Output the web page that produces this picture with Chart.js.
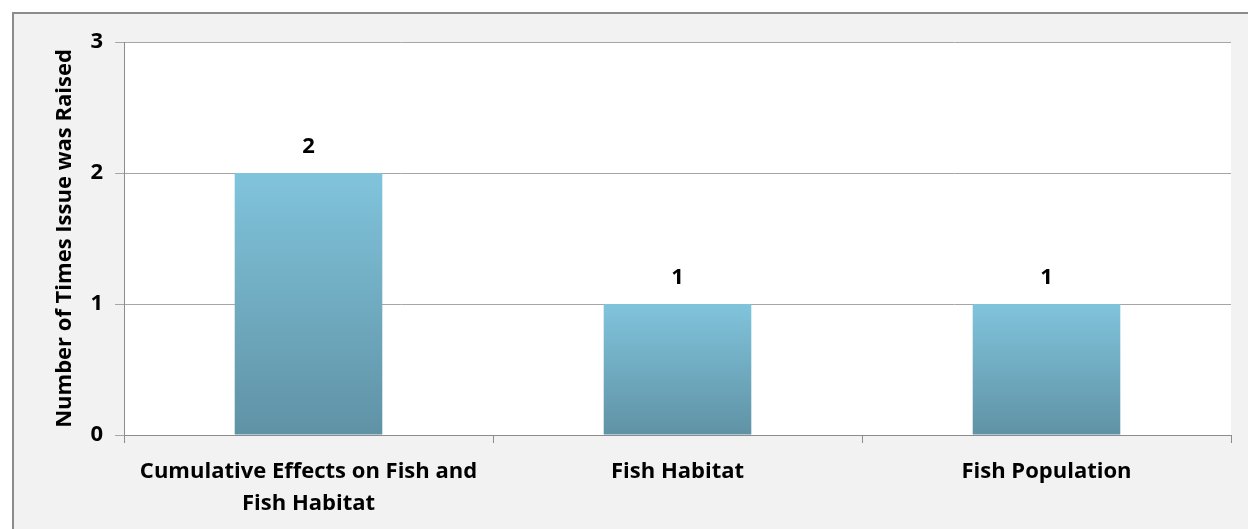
<!DOCTYPE html>
<html>
<head>
<meta charset="utf-8">
<script src="https://cdn.jsdelivr.net/npm/chart.js@4"></script>
<style>
  html, body { margin: 0; padding: 0; background: #ffffff; }
  #wrap { width: 1248px; height: 529px; }
</style>
</head>
<body>
<div id="wrap"><canvas id="chart" width="1248" height="529"></canvas></div>
<script>
const categories = [
    ["Cumulative Effects on Fish and", "Fish Habitat"],
    "Fish Habitat",
    "Fish Population"
]
const timesRaised = [2, 1, 1]
const yTicks = [0, 1, 2, 3]

const FONT = "'Open Sans', sans-serif"

// Frame, grey surround and white plot area
const backdrop = {
    id: 'backdrop',
    beforeDraw(chart) {
        const { ctx, chartArea } = chart
        ctx.save()
        ctx.fillStyle = '#ffffff'
        ctx.fillRect(0, 0, chart.width, chart.height)
        ctx.fillStyle = '#f2f2f2'
        ctx.fillRect(13, 13, chart.width, chart.height)
        ctx.strokeStyle = '#8c8c8c'
        ctx.lineWidth = 2
        ctx.beginPath()
        ctx.moveTo(13, chart.height + 5)
        ctx.lineTo(13, 13)
        ctx.lineTo(chart.width + 5, 13)
        ctx.stroke()
        ctx.fillStyle = '#ffffff'
        ctx.fillRect(chartArea.left, chartArea.top, chartArea.right - chartArea.left, chartArea.bottom - chartArea.top)
        ctx.restore()
    }
}

// Value labels above the bars
const valueLabels = {
    id: 'valueLabels',
    afterDatasetsDraw(chart) {
        const { ctx } = chart
        const meta = chart.getDatasetMeta(0)
        ctx.save()
        ctx.font = 'bold 22px ' + FONT
        ctx.fillStyle = '#000000'
        ctx.textAlign = 'center'
        ctx.textBaseline = 'middle'
        meta.data.forEach((bar, i) => {
            ctx.fillText(String(timesRaised[i]), bar.x, bar.y - 26)
        })
        ctx.restore()
    }
}

function barGradient(context) {
    const chart = context.chart
    const y = chart.scales.y
    if (!y || context.raw === undefined) return '#73b1c8'
    const top = y.getPixelForValue(context.raw)
    const bottom = y.getPixelForValue(0)
    if (!isFinite(top) || !isFinite(bottom) || top === bottom) return '#73b1c8'
    const g = chart.ctx.createLinearGradient(0, top, 0, bottom)
    g.addColorStop(0, '#80c4dc')
    g.addColorStop(1, '#6092a5')
    return g
}

new Chart(document.getElementById('chart'), {
    type: 'bar',
    data: {
        labels: categories,
        datasets: [{
            data: timesRaised,
            backgroundColor: barGradient,
            borderWidth: 0,
            categoryPercentage: 1,
            barPercentage: 0.4
        }]
    },
    options: {
        responsive: false,
        animation: false,
        devicePixelRatio: 1,
        layout: { padding: { top: 42, right: 17, left: 0, bottom: 0 } },
        plugins: {
            legend: { display: false },
            tooltip: { enabled: false }
        },
        scales: {
            y: {
                min: 0,
                max: 3,
                afterFit(scale) { scale.width = 124 },
                afterBuildTicks(scale) { scale.ticks = yTicks.map(v => ({ value: v })) },
                border: { color: '#8c8c8c', width: 1 },
                grid: { color: '#a6a6a6', lineWidth: 1, tickLength: 9, drawTicks: true },
                ticks: {
                    padding: 12,
                    color: '#000000',
                    font: { family: FONT, size: 22, weight: 'bold' }
                },
                title: {
                    display: true,
                    text: 'Number of Times Issue was Raised',
                    color: '#000000',
                    font: { family: FONT, size: 22, weight: 'bold' },
                    padding: { top: 52, bottom: 0 }
                }
            },
            x: {
                afterFit(scale) { scale.height = 94 },
                border: { color: '#8c8c8c', width: 1 },
                grid: { offset: true, drawOnChartArea: false, drawTicks: true, tickLength: 8, color: '#8c8c8c' },
                ticks: {
                    padding: 13,
                    color: '#000000',
                    maxRotation: 0,
                    font: { family: FONT, size: 22, weight: 'bold', lineHeight: 1.45 }
                }
            }
        }
    },
    plugins: [backdrop, valueLabels]
})
</script>
</body>
</html>
